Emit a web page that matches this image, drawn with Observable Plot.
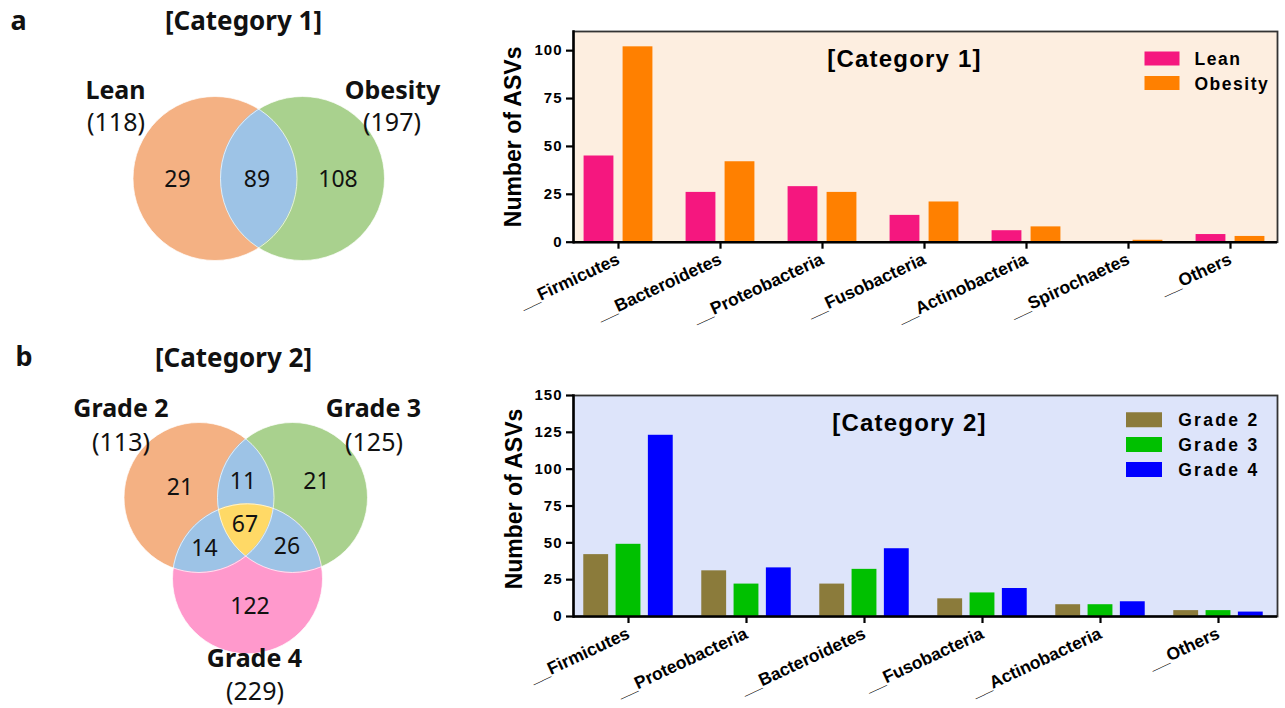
<!DOCTYPE html>
<html>
<head>
<meta charset="utf-8">
<script src="https://cdn.jsdelivr.net/npm/d3@7"></script>
<script src="https://cdn.jsdelivr.net/npm/@observablehq/plot@0.6"></script>
<style>
  html, body { margin: 0; padding: 0; background: #fff; }
  #fig { position: relative; width: 1285px; height: 708px; overflow: hidden; background: #fff; }
  #fig > svg { position: absolute; overflow: visible; }
</style>
</head>
<body>
<div id="fig"></div>
<script>
// ---------------- DATA ----------------
const venn1Sets = ["Lean", "Obesity"];
const venn1Totals = [118, 197];
const venn1RegionNames = ["Lean only", "Lean & Obesity", "Obesity only"];
const venn1RegionCounts = [29, 89, 108];

const venn2Sets = ["Grade 2", "Grade 3", "Grade 4"];
const venn2Totals = [113, 125, 229];
const venn2RegionNames = ["Grade 2 only", "Grade 2 & 3", "Grade 3 only", "Grade 2 & 3 & 4", "Grade 2 & 4", "Grade 3 & 4", "Grade 4 only"];
const venn2RegionCounts = [21, 11, 21, 67, 14, 26, 122];

const phyla1 = ["__Firmicutes", "__Bacteroidetes", "__Proteobacteria", "__Fusobacteria", "__Actinobacteria", "__Spirochaetes", "__Others"];
const series1 = ["Lean", "Obesity"];
const leanASVs = [45, 26, 29, 14, 6, 0, 4];
const obesityASVs = [102, 42, 26, 21, 8, 1, 3];
const yTicks1 = [0, 25, 50, 75, 100];

const phyla2 = ["__Firmicutes", "__Proteobacteria", "__Bacteroidetes", "__Fusobacteria", "__Actinobacteria", "__Others"];
const series2 = ["Grade 2", "Grade 3", "Grade 4"];
const grade2ASVs = [42, 31, 22, 12, 8, 4];
const grade3ASVs = [49, 22, 32, 16, 8, 4];
const grade4ASVs = [123, 33, 46, 19, 10, 3];
const yTicks2 = [0, 25, 50, 75, 100, 125, 150];

// ---------------- LAYOUT / STYLE ----------------
const vennFont = "'Noto Sans', 'Open Sans', sans-serif";
const barFont = "'Liberation Sans', Arial, sans-serif";

const venn1Layout = {
  left: 0, top: 0, width: 460, height: 330, r: 82,
  centers: [[214.5, 178], [302, 178]],
  setLabels: [[115, 98], [392, 98]],
  totalLabels: [[115.5, 130], [391.5, 130]],
  regionLabels: [[177, 179], [256.5, 179], [337.5, 179]],
  title: [243, 29], letter: [10, 29]
};
const venn2Layout = {
  left: 0, top: 330, width: 460, height: 378, r: 75,
  centers: [[198.5, 167], [292, 167], [247, 248.3]],
  setLabels: [[120.5, 86], [373, 86], [254, 336.5]],
  totalLabels: [[120.5, 120], [373.5, 120], [254.5, 369]],
  regionLabels: [[179.5, 157.5], [242.5, 151.5], [316, 151.5], [244.5, 194], [204, 218.5], [286.5, 216.5], [249.5, 276.5]],
  title: [233, 36.5], letter: [15, 35]
};

function venn(cfg) {
  const {sets, totals, regionNames, counts, layout, colors, pairColor, coreColor, title, letter, id} = cfg;
  const circles = sets.map((s, i) => ({set: s, cx: layout.centers[i][0], cy: layout.centers[i][1]}));
  const setLabels = sets.map((s, i) => ({text: s, x: layout.setLabels[i][0], y: layout.setLabels[i][1]}));
  const totalLabels = totals.map((t, i) => ({text: `(${t})`, x: layout.totalLabels[i][0], y: layout.totalLabels[i][1]}));
  const regionLabels = counts.map((c, i) => ({region: regionNames[i], text: String(c), x: layout.regionLabels[i][0], y: layout.regionLabels[i][1]}));

  const overlaps = (index, scales) => {
    const X = (scales && typeof scales.x === "function") ? scales.x : (v) => v;
    const Y = (scales && typeof scales.y === "function") ? scales.y : (v) => v;
    const g = d3.create("svg:g");
    const defs = g.append("defs");
    circles.forEach((c, i) => {
      defs.append("clipPath").attr("id", `${id}-clip${i}`)
        .append("circle").attr("cx", X(c.cx)).attr("cy", Y(c.cy)).attr("r", layout.r);
    });
    for (let i = 0; i < circles.length; i++) {
      for (let j = i + 1; j < circles.length; j++) {
        g.append("circle")
          .attr("cx", X(circles[j].cx)).attr("cy", Y(circles[j].cy)).attr("r", layout.r)
          .attr("fill", pairColor).attr("clip-path", `url(#${id}-clip${i})`);
      }
    }
    if (circles.length === 3) {
      g.append("g").attr("clip-path", `url(#${id}-clip0)`)
        .append("g").attr("clip-path", `url(#${id}-clip1)`)
        .append("circle")
        .attr("cx", X(circles[2].cx)).attr("cy", Y(circles[2].cy)).attr("r", layout.r)
        .attr("fill", coreColor);
    }
    return g.node();
  };

  return Plot.plot({
    width: layout.width,
    height: layout.height,
    margin: 0,
    axis: null,
    x: {type: "identity"},
    y: {type: "identity"},
    style: {fontFamily: vennFont, color: "#111", background: "transparent", overflow: "visible"},
    marks: [
      ...circles.map((c, i) => Plot.dot([c], {x: "cx", y: "cy", r: layout.r, fill: colors[i]})),
      overlaps,
      Plot.dot(circles, {x: "cx", y: "cy", r: layout.r, stroke: "white", strokeWidth: 1, strokeOpacity: 0.7, fill: "none"}),
      Plot.text([letter], {x: () => layout.letter[0], y: () => layout.letter[1], text: d => d, textAnchor: "start", lineAnchor: "bottom", fontSize: 27, fontWeight: "bold", fill: "#111"}),
      Plot.text([title], {x: () => layout.title[0], y: () => layout.title[1], text: d => d, textAnchor: "middle", lineAnchor: "bottom", fontSize: 26, fontWeight: "bold", fill: "#111"}),
      Plot.text(setLabels, {x: "x", y: "y", text: "text", textAnchor: "middle", lineAnchor: "bottom", fontSize: 25, fontWeight: "bold", fill: "#111"}),
      Plot.text(totalLabels, {x: "x", y: "y", text: "text", textAnchor: "middle", lineAnchor: "bottom", fontSize: 25, fill: "#111"}),
      Plot.text(regionLabels, {x: "x", y: "y", text: "text", textAnchor: "middle", lineAnchor: "middle", fontSize: 23, fill: "#111"})
    ]
  });
}

const bar1Layout = {
  left: 480, top: 20, width: 805, height: 330,
  marginLeft: 93, marginRight: 8, marginTop: 11, marginBottom: 108.3,
  xRange: [86.6, 801.8], barWidth: 30, barPitch: 39,
  yDomain: [0, 110], bg: "#fdeee0",
  ylabelDx: -60, ylabelDy: 0,
  titleDx: -21, titleDy: 18,
  legend: {swatchDx: -115.5, textDx: -83, dy0: 27, pitch: 24.5, w: 35, h: 14, fontSize: 17.5, spacing: 1.5}
};
const bar2Layout = {
  left: 480, top: 380, width: 805, height: 328,
  marginLeft: 93, marginRight: 8, marginTop: 15, marginBottom: 92,
  xRange: [87.4, 799.3], barWidth: 25.5, barPitch: 32.3,
  yDomain: [0, 150], bg: "#dde4fa",
  ylabelDx: -59, ylabelDy: -7,
  titleDx: -16, titleDy: 18,
  legend: {swatchDx: -133.5, textDx: -99.3, dy0: 24.3, pitch: 24.8, w: 36, h: 15, fontSize: 17.5, spacing: 2.3}
};

function swatch(w, h) {
  return {draw(ctx) { ctx.rect(-w / 2, -h / 2, w, h); }};
}

function barChart(cfg) {
  const {phyla, series, values, colors, yTicks, title, layout} = cfg;
  const rows = phyla.flatMap((p, i) => series.map((s, j) => ({phylum: p, series: s, value: values[j][i]})));
  const n = series.length;
  const step = (layout.xRange[1] - layout.xRange[0]) / phyla.length;
  const inset = (step - layout.barWidth) / 2;
  const L = layout.legend;
  const svg = Plot.plot({
    width: layout.width,
    height: layout.height,
    marginLeft: layout.marginLeft,
    marginRight: layout.marginRight,
    marginTop: layout.marginTop,
    marginBottom: layout.marginBottom,
    x: {domain: phyla, range: layout.xRange, padding: 0, label: null, axis: null},
    y: {domain: layout.yDomain, label: null, axis: null},
    style: {fontFamily: barFont, color: "black", background: "transparent", overflow: "visible"},
    marks: [
      Plot.frame({fill: layout.bg, stroke: "#333", strokeWidth: 1.8}),
      ...series.map((s, j) => Plot.barY(rows.filter(r => r.series === s), {
        x: "phylum", y: "value", fill: colors[j],
        dx: (j - (n - 1) / 2) * layout.barPitch,
        insetLeft: inset, insetRight: inset
      })),
      Plot.frame({anchor: "left", stroke: "black", strokeWidth: 2.5}),
      Plot.ruleY([0], {stroke: "black", strokeWidth: 2.5}),
      Plot.axisY({ticks: yTicks, tickSize: 7, tickPadding: 4, strokeWidth: 2.2, fontSize: 15, fontWeight: "bold", label: null}),
      Plot.axisX({tickSize: 7, tickPadding: 9, tickRotate: -25, strokeWidth: 2.2, fontSize: 17.5, fontWeight: "bold", label: null}),
      Plot.text(["Number of ASVs"], {frameAnchor: "left", rotate: -90, dx: layout.ylabelDx, dy: layout.ylabelDy, textAnchor: "middle", lineAnchor: "middle", fontSize: 23, fontWeight: "bold"}),
      Plot.text([title], {frameAnchor: "top", dx: layout.titleDx, dy: layout.titleDy, textAnchor: "middle", lineAnchor: "top", fontSize: 24, fontWeight: "bold"}),
      ...series.map((s, j) => Plot.dot([s], {frameAnchor: "top-right", dx: L.swatchDx, dy: L.dy0 + j * L.pitch, symbol: swatch(L.w, L.h), r: 5, fill: colors[j]})),
      ...series.map((s, j) => Plot.text([s], {frameAnchor: "top-right", dx: L.textDx, dy: L.dy0 + j * L.pitch + 1, textAnchor: "start", lineAnchor: "middle", fontSize: L.fontSize, fontWeight: "bold"}))
    ]
  });
  d3.select(svg).selectAll("text").each(function() {
    const t = this.textContent;
    if (series.includes(t)) this.setAttribute("letter-spacing", L.spacing);
    else if (t === title) this.setAttribute("letter-spacing", 1.2);
    else if (/^\d+$/.test(t)) this.setAttribute("letter-spacing", 1);
  });
  return svg;
}

// ---------------- RENDER ----------------
const fig = document.getElementById("fig");
function place(svg, layout) {
  svg.style.left = layout.left + "px";
  svg.style.top = layout.top + "px";
  fig.appendChild(svg);
}

place(venn({
  sets: venn1Sets, totals: venn1Totals, regionNames: venn1RegionNames, counts: venn1RegionCounts,
  layout: venn1Layout, colors: ["#f4b183", "#a9d18e"], pairColor: "#9dc3e6", coreColor: "#ffd966",
  title: "[Category 1]", letter: "a", id: "v1"
}), venn1Layout);

place(venn({
  sets: venn2Sets, totals: venn2Totals, regionNames: venn2RegionNames, counts: venn2RegionCounts,
  layout: venn2Layout, colors: ["#f4b183", "#a9d18e", "#ff99cc"], pairColor: "#9dc3e6", coreColor: "#ffd966",
  title: "[Category 2]", letter: "b", id: "v2"
}), venn2Layout);

place(barChart({
  phyla: phyla1, series: series1, values: [leanASVs, obesityASVs],
  colors: ["#f5177f", "#ff8000"], yTicks: yTicks1, title: "[Category 1]", layout: bar1Layout
}), bar1Layout);

place(barChart({
  phyla: phyla2, series: series2, values: [grade2ASVs, grade3ASVs, grade4ASVs],
  colors: ["#8b7b3b", "#00c000", "#0000ff"], yTicks: yTicks2, title: "[Category 2]", layout: bar2Layout
}), bar2Layout);
</script>
</body>
</html>
